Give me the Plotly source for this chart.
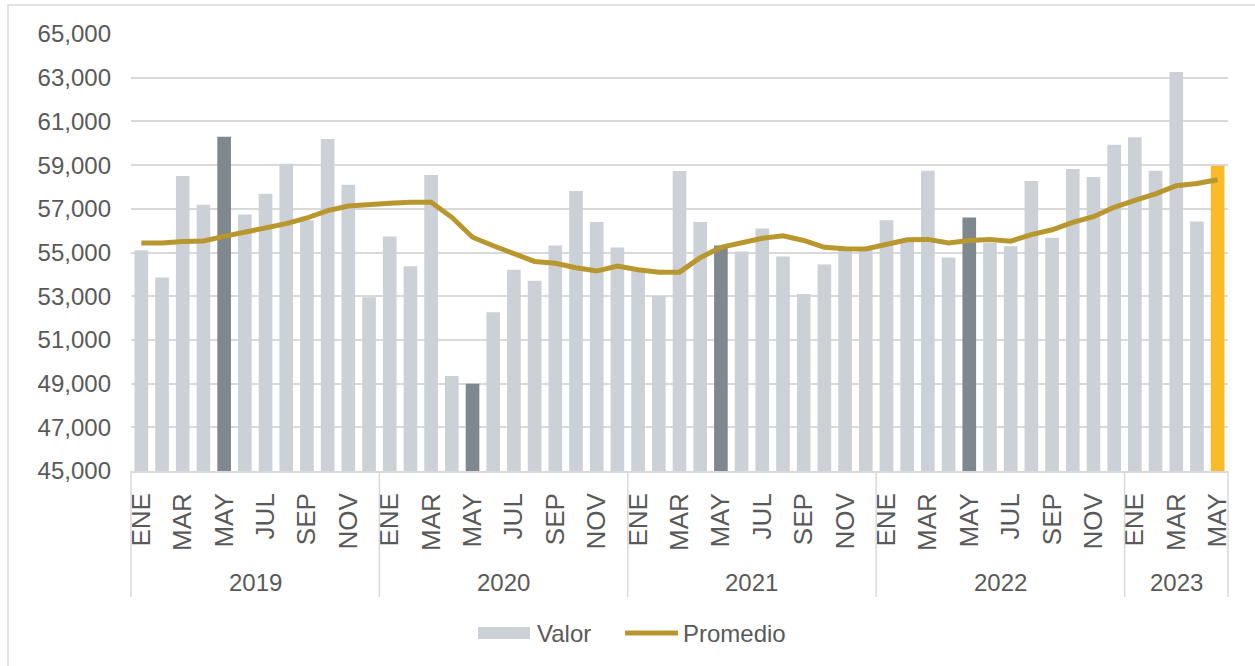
import plotly.graph_objects as go

# ---------------- data ----------------
years = ["2019", "2020", "2021", "2022", "2023"]
months_per_year = [12, 12, 12, 12, 5]
month_names = ["ENE", "FEB", "MAR", "ABR", "MAY", "JUN",
               "JUL", "AGO", "SEP", "OCT", "NOV", "DIC"]

valor = [
    55100, 53860, 58500, 57180, 60300, 56735, 57690, 59060, 56480, 60200, 58100, 52950,
    55730, 54375, 58550, 49350, 48990, 52270, 54210, 53710, 55320, 57820, 56400, 55230,
    54250, 53020, 58730, 56400, 55320, 55050, 56100, 54820, 53100, 54450, 55100, 55150,
    56480, 55500, 58740, 54770, 56600, 55450, 55290, 58270, 55680, 58820, 58460, 59930,
    60280, 58740, 63260, 56420, 58970,
]
promedio = [
    55440, 55430, 55500, 55530, 55740, 55930, 56170, 56320, 56580, 56920, 57130, 57210,
    57250, 57300, 57300, 56610, 55700, 55310, 54960, 54590, 54510, 54300, 54150, 54380,
    54210, 54100, 54100, 54760, 55240, 55470, 55650, 55760, 55550, 55240, 55170, 55160,
    55365, 55580, 55600, 55440, 55550, 55590, 55520, 55820, 56040, 56380, 56640, 57070,
    57390, 57680, 58060, 58160, 58330,
]
y_ticks = list(range(45000, 65001, 2000))

# ---------------- derived ----------------
month_labels = []
for y, n in zip(years, months_per_year):
    for m in range(n):
        month_labels.append(month_names[m])
N = len(valor)
xs = list(range(N))

LIGHT = "#CBD1D7"
DARK = "#7F888E"
GOLD = "#FBBA27"
LINE = "#B8972F"
TXT = "#595959"
GRID = "#D9D9D9"
FONT = "Arial, Liberation Sans, sans-serif"

colors = []
for i, m in enumerate(month_labels):
    if i == N - 1:
        colors.append(GOLD)
    elif m == "MAY":
        colors.append(DARK)
    else:
        colors.append(LIGHT)

fig = go.Figure()
fig.add_trace(go.Bar(x=xs, y=valor, marker=dict(color=colors, line=dict(width=0)),
                     name="Valor", showlegend=False))
fig.add_trace(go.Scatter(x=xs, y=promedio, mode="lines", name="Promedio",
                         line=dict(color=LINE, width=5), showlegend=False))

W, H = 1255, 666
ml, mr, mt, mb = 131, 27, 34, 195
pw, ph = W - ml - mr, H - mt - mb
x0, x1 = -0.5, N - 0.5


def px_x(X):
    return (X - ml) / pw


def px_y(Y):
    return (H - mb - Y) / ph


def data_to_paper(v):
    return (v - x0) / (x1 - x0)


shapes = []
annotations = []
# outer frame
shapes.append(dict(type="rect", xref="paper", yref="paper",
                   x0=px_x(8), x1=px_x(1265), y0=px_y(680), y1=px_y(5),
                   line=dict(color=GRID, width=1.5), fillcolor="rgba(0,0,0,0)", layer="below"))
# year dividers and labels
start = 0
bounds = [-0.5]
for y, n in zip(years, months_per_year):
    end = start + n
    bounds.append(end - 0.5)
    annotations.append(dict(x=data_to_paper((start + end - 1) / 2), y=px_y(582),
                            xref="paper", yref="paper", text=y, showarrow=False,
                            font=dict(size=24, color=TXT, family=FONT),
                            xanchor="center", yanchor="middle"))
    start = end
for b in bounds:
    xp = data_to_paper(b)
    shapes.append(dict(type="line", xref="paper", yref="paper",
                       x0=xp, x1=xp, y0=0, y1=px_y(597),
                       line=dict(color=GRID, width=1.5)))

# custom legend
ly = px_y(633)
shapes.append(dict(type="rect", xref="paper", yref="paper",
                   x0=px_x(478), x1=px_x(530), y0=px_y(639), y1=px_y(627),
                   fillcolor=LIGHT, line=dict(width=0)))
shapes.append(dict(type="line", xref="paper", yref="paper",
                   x0=px_x(625), x1=px_x(678), y0=ly, y1=ly,
                   line=dict(color=LINE, width=5)))
annotations.append(dict(x=px_x(535), y=ly, xref="paper", yref="paper", text="Valor",
                        showarrow=False, xanchor="left", yanchor="middle",
                        font=dict(size=24, color=TXT, family=FONT)))
annotations.append(dict(x=px_x(681), y=ly, xref="paper", yref="paper", text="Promedio",
                        showarrow=False, xanchor="left", yanchor="middle",
                        font=dict(size=24, color=TXT, family=FONT)))

tickvals = [i for i in xs if i % 2 == 0]
ticktext = [month_labels[i] for i in tickvals]

fig.update_layout(
    width=W, height=H,
    margin=dict(l=ml, r=mr, t=mt, b=mb),
    paper_bgcolor="white", plot_bgcolor="white",
    bargap=0.34,
    showlegend=False,
    font=dict(family=FONT, color=TXT),
    shapes=shapes,
    annotations=annotations,
    xaxis=dict(range=[x0, x1], tickmode="array", tickvals=tickvals, ticktext=ticktext,
               tickangle=-90, tickfont=dict(size=26, color=TXT, family=FONT),
               showgrid=False, showline=True, linecolor=GRID, linewidth=1.5,
               ticks="", ticklabelstandoff=10, zeroline=False),
    yaxis=dict(range=[45000, 65000], tickmode="array", tickvals=y_ticks,
               tickformat=",", tickfont=dict(size=24, color=TXT, family=FONT),
               showgrid=True, gridcolor=GRID, gridwidth=1.5,
               showline=False, zeroline=False, ticks="", ticklabelstandoff=19),
)

fig.write_html("out.html", config={"displayModeBar": False},
               post_script="document.body.style.margin='0px';")
